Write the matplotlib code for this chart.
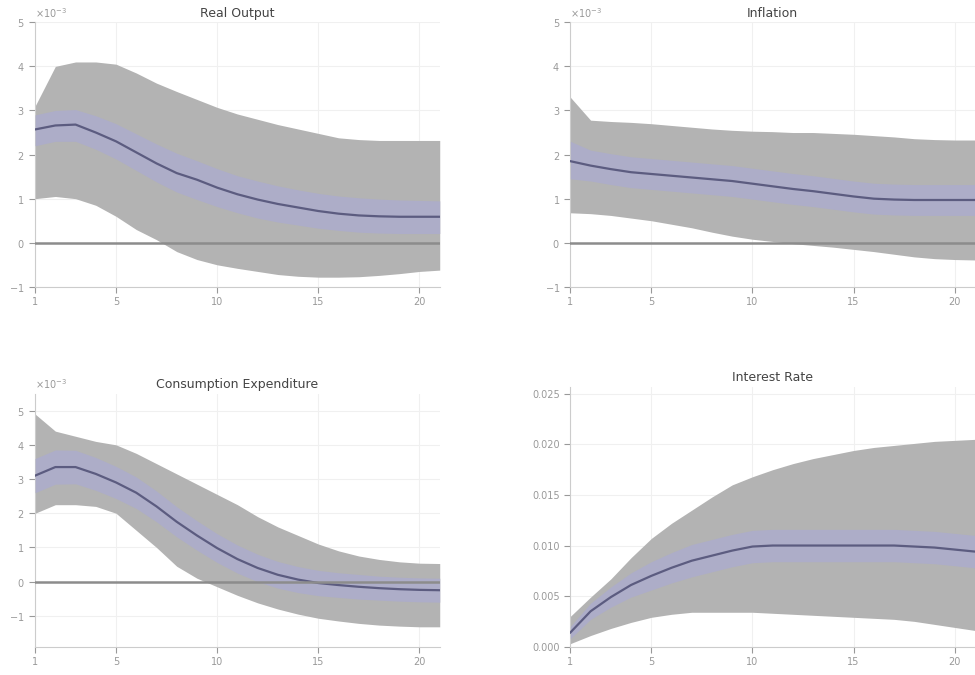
import numpy as np
import matplotlib
matplotlib.use("Agg")
import matplotlib.pyplot as plt
from matplotlib.ticker import ScalarFormatter, MultipleLocator

# horizon (periods after the shock)
periods = np.arange(1, 22)
titles = ["Real Output", "Inflation", "Consumption Expenditure", "Interest Rate"]

# Real Output (x1e-3)
out_med = [2.57, 2.66, 2.68, 2.50, 2.30, 2.05, 1.80, 1.58, 1.43, 1.25, 1.10,
           0.98, 0.88, 0.80, 0.72, 0.66, 0.62, 0.60, 0.59, 0.59, 0.59]
out_hi90 = [3.10, 4.00, 4.10, 4.10, 4.05, 3.85, 3.62, 3.43, 3.25, 3.07, 2.92,
            2.80, 2.68, 2.58, 2.48, 2.38, 2.34, 2.32, 2.32, 2.32, 2.32]
out_lo90 = [1.00, 1.05, 1.00, 0.85, 0.60, 0.30, 0.07, -0.20, -0.38, -0.50, -0.58,
            -0.65, -0.72, -0.76, -0.78, -0.78, -0.77, -0.74, -0.70, -0.65, -0.62]
out_hi68 = [2.90, 3.00, 3.02, 2.88, 2.70, 2.47, 2.24, 2.03, 1.86, 1.68, 1.52,
            1.40, 1.29, 1.20, 1.12, 1.06, 1.02, 0.99, 0.97, 0.96, 0.95]
out_lo68 = [2.20, 2.30, 2.30, 2.12, 1.90, 1.64, 1.38, 1.15, 0.98, 0.82, 0.68,
            0.56, 0.47, 0.40, 0.33, 0.28, 0.24, 0.22, 0.21, 0.21, 0.21]

# Inflation (x1e-3)
inf_med = [1.85, 1.75, 1.67, 1.60, 1.56, 1.52, 1.48, 1.44, 1.40, 1.34, 1.28,
           1.22, 1.17, 1.11, 1.05, 1.00, 0.98, 0.97, 0.97, 0.97, 0.97]
inf_hi90 = [3.30, 2.78, 2.75, 2.73, 2.70, 2.66, 2.62, 2.58, 2.55, 2.53, 2.52,
            2.50, 2.50, 2.48, 2.46, 2.43, 2.40, 2.36, 2.34, 2.33, 2.33]
inf_lo90 = [0.68, 0.66, 0.62, 0.56, 0.50, 0.42, 0.34, 0.24, 0.15, 0.08, 0.03,
            -0.02, -0.06, -0.10, -0.15, -0.20, -0.26, -0.32, -0.36, -0.38, -0.39]
inf_hi68 = [2.30, 2.10, 2.02, 1.95, 1.91, 1.87, 1.83, 1.79, 1.75, 1.69, 1.63,
            1.57, 1.52, 1.46, 1.40, 1.35, 1.33, 1.32, 1.32, 1.32, 1.32]
inf_lo68 = [1.45, 1.40, 1.32, 1.25, 1.21, 1.17, 1.13, 1.09, 1.05, 0.99, 0.93,
            0.87, 0.82, 0.76, 0.70, 0.65, 0.63, 0.62, 0.62, 0.62, 0.62]

# Consumption Expenditure (x1e-3)
con_med = [3.10, 3.35, 3.35, 3.15, 2.90, 2.60, 2.20, 1.75, 1.35, 0.98, 0.66,
           0.40, 0.20, 0.06, -0.04, -0.10, -0.15, -0.19, -0.22, -0.24, -0.25]
con_hi90 = [4.90, 4.40, 4.25, 4.10, 4.00, 3.75, 3.45, 3.15, 2.85, 2.55, 2.25,
            1.90, 1.60, 1.35, 1.10, 0.90, 0.75, 0.65, 0.58, 0.54, 0.53]
con_lo90 = [2.00, 2.25, 2.25, 2.20, 2.00, 1.50, 1.00, 0.45, 0.10, -0.15, -0.40,
            -0.62, -0.80, -0.95, -1.07, -1.15, -1.22, -1.27, -1.30, -1.32, -1.32]
con_hi68 = [3.60, 3.85, 3.84, 3.63, 3.37, 3.06, 2.65, 2.19, 1.78, 1.40, 1.07,
            0.80, 0.59, 0.44, 0.33, 0.26, 0.21, 0.16, 0.13, 0.11, 0.10]
con_lo68 = [2.60, 2.85, 2.86, 2.67, 2.43, 2.14, 1.75, 1.31, 0.92, 0.56, 0.25,
            0.00, -0.19, -0.32, -0.41, -0.46, -0.51, -0.54, -0.57, -0.59, -0.60]

# Interest Rate
int_med = [0.0014, 0.0035, 0.0049, 0.0061, 0.0070, 0.0078, 0.0085, 0.0090, 0.0095, 0.0099, 0.0100,
           0.0100, 0.0100, 0.0100, 0.0100, 0.0100, 0.0100, 0.0099, 0.0098, 0.0096, 0.0094]
int_hi90 = [0.0030, 0.0049, 0.0067, 0.0088, 0.0107, 0.0122, 0.0135, 0.0148, 0.0160, 0.0168, 0.0175,
            0.0181, 0.0186, 0.0190, 0.0194, 0.0197, 0.0199, 0.0201, 0.0203, 0.0204, 0.0205]
int_lo90 = [0.0003, 0.0011, 0.0018, 0.0024, 0.0029, 0.0032, 0.0034, 0.0034, 0.0034, 0.0034, 0.0033,
            0.0032, 0.0031, 0.0030, 0.0029, 0.0028, 0.0027, 0.0025, 0.0022, 0.0019, 0.0016]
int_hi68 = [0.0020, 0.0043, 0.0059, 0.0073, 0.0084, 0.0093, 0.0101, 0.0106, 0.0111, 0.0115, 0.0116,
            0.0116, 0.0116, 0.0116, 0.0116, 0.0116, 0.0116, 0.0115, 0.0114, 0.0112, 0.0110]
int_lo68 = [0.0008, 0.0027, 0.0039, 0.0049, 0.0056, 0.0063, 0.0069, 0.0074, 0.0079, 0.0083, 0.0084,
            0.0084, 0.0084, 0.0084, 0.0084, 0.0084, 0.0084, 0.0083, 0.0082, 0.0080, 0.0078]

panels = [
    (out_med, out_hi90, out_lo90, out_hi68, out_lo68, 1e-3),
    (inf_med, inf_hi90, inf_lo90, inf_hi68, inf_lo68, 1e-3),
    (con_med, con_hi90, con_lo90, con_hi68, con_lo68, 1e-3),
    (int_med, int_hi90, int_lo90, int_hi68, int_lo68, 1.0),
]

# axes rectangles in figure fractions [left, bottom, width, height]
rects = [
    [0.036, 0.575, 0.415, 0.392],
    [0.585, 0.575, 0.415, 0.392],
    [0.036, 0.042, 0.415, 0.375],
    [0.585, 0.042, 0.415, 0.385],
]
ylims = [(-1e-3, 5e-3), (-1e-3, 5e-3), (-1.9e-3, 5.5e-3), (0, 0.0257)]
ysteps = [1e-3, 1e-3, 1e-3, 0.005]

fig = plt.figure(figsize=(9.75, 6.75), dpi=100)

for i, (med, hi90, lo90, hi68, lo68, scale) in enumerate(panels):
    ax = fig.add_axes(rects[i])
    med = np.array(med) * scale
    ax.fill_between(periods, np.array(lo90) * scale, np.array(hi90) * scale,
                    color="#b3b3b3", lw=0, zorder=2)
    ax.fill_between(periods, np.array(lo68) * scale, np.array(hi68) * scale,
                    color="#adadc8", lw=0, zorder=3)
    ax.plot(periods, med, color="#5c5c80", lw=1.6, zorder=4)
    if i != 3:
        ax.axhline(0, color="#8c8c8c", lw=1.8, zorder=5)

    ax.set_xlim(1, 21)
    ax.set_ylim(*ylims[i])
    ax.set_xticks([1, 5, 10, 15, 20])
    ax.yaxis.set_major_locator(MultipleLocator(ysteps[i]))
    if i != 3:
        fmt = ScalarFormatter(useMathText=True)
        fmt.set_powerlimits((0, 0))
        ax.yaxis.set_major_formatter(fmt)
        ax.yaxis.get_offset_text().set_fontsize(7)
        ax.yaxis.get_offset_text().set_color("#888888")

    ax.set_title(titles[i], fontsize=9, color="#444444", pad=4)
    ax.grid(True, color="#f0f0f0", lw=0.8, zorder=0)
    ax.set_axisbelow(True)
    for s in ["top", "right"]:
        ax.spines[s].set_visible(False)
    for s in ["left", "bottom"]:
        ax.spines[s].set_color("#cccccc")
    ax.tick_params(labelsize=7, colors="#999999", length=4)

fig.savefig("out.png", dpi=100)
